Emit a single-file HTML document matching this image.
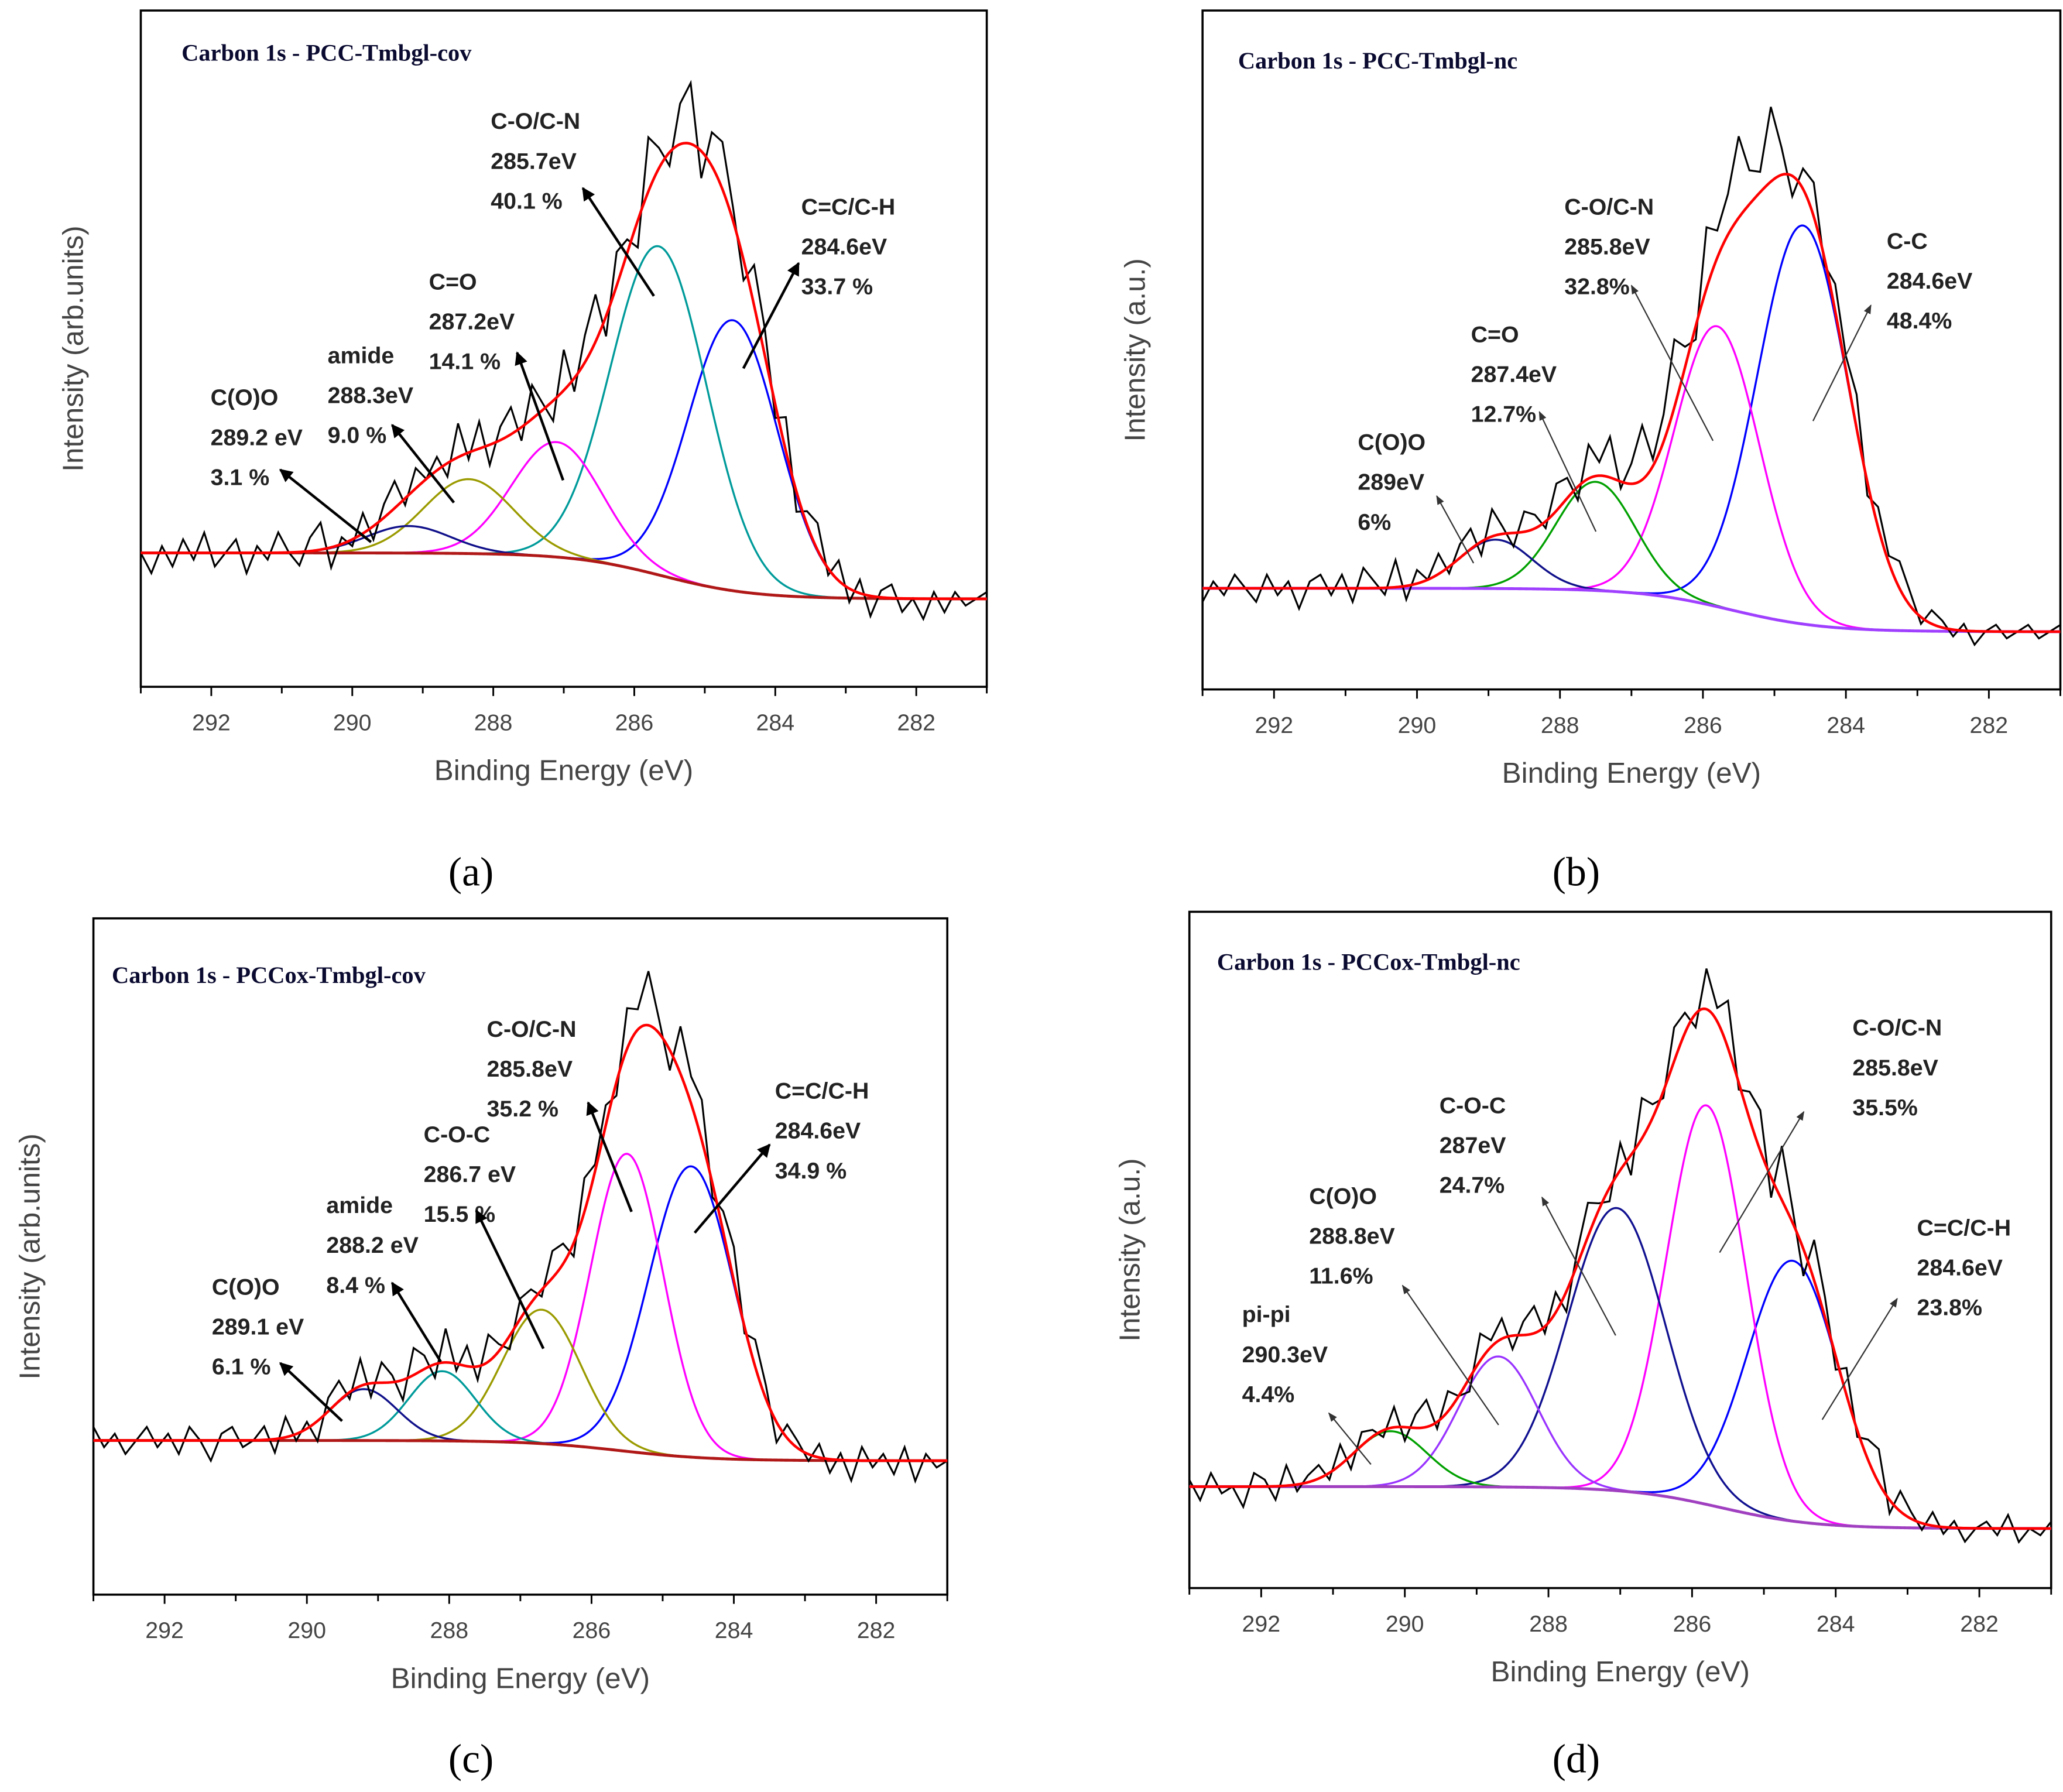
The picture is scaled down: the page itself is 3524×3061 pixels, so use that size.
<!DOCTYPE html>
<html><head><meta charset="utf-8">
<style>
html,body{margin:0;padding:0;background:#fff;}
svg{display:block;}
.lbl{font-family:"Liberation Sans",Arial,sans-serif;font-weight:bold;font-size:17.5px;fill:#222;}
.tick{font-family:"Liberation Sans",Arial,sans-serif;font-size:17.5px;fill:#444;}
.ax{font-family:"Liberation Sans",Arial,sans-serif;font-size:22px;fill:#444;}
.ttl{font-family:"Liberation Serif","Times New Roman",serif;font-weight:bold;font-size:18px;fill:#0a0a30;}
.cap{font-family:"Liberation Serif","Times New Roman",serif;font-size:31px;fill:#000;}
</style></head>
<body>
<svg id="fig" width="3524" height="3061" viewBox="0 0 1568 1362" xmlns="http://www.w3.org/2000/svg">
<defs>
<marker id="ahk" viewBox="0 0 10 10" refX="9" refY="5" markerWidth="5" markerHeight="5" orient="auto"><path d="M0,0L10,5L0,10z" fill="#000"/></marker>
<marker id="ahg" viewBox="0 0 10 10" refX="9" refY="5" markerWidth="7" markerHeight="7" orient="auto"><path d="M0,1L10,5L0,9z" fill="#333"/></marker>
</defs>
</svg>
<script>
// shared tick labels
const tickLabels=[292,290,288,286,284,282];
// Panel A data
const aNames=["C=C/C-H","C-O/C-N","C=O","amide","C(O)O"];
const aCenters=[284.6,285.65,287.1,288.35,289.2];
const aHeights=[40,48.6,17,11,4];
const aFwhm=[1.5,1.6,1.5,1.5,1.4];
const aBg=[19.8,13];
const aNoise=[0,-3,1,-2,2,-1,3,-2,0,2,-3,1,-1,3,0,-2,2,4,-3,1,-1,3,-2,2,4,-1,3,0,2,-2,5,-1,4,-3,2,4,-2,5,1,-3,6,-2,4,7,-3,5,2,-4,8,3,-2,6,9,-4,5,7,2,-3,6,4,-2,5,-3,2,4,-1,3,-2,2,-3,1,2,-2,0,-3,1,-2,1,-1,0,1];
// Panel B data
const bCenters=[284.6,285.8,287.5,288.9];
const bHeights=[58.7,41.3,16,7.2];
const bFwhm=[1.5,1.4,1.3,1.2];
const bBg=[14.9,8.5];
const bNoise=[-2,1,-1,2,0,-2,2,-1,1,-3,1,2,-1,2,-2,3,1,-1,4,-2,2,0,3,-1,2,3,-2,4,1,-2,3,2,-1,4,3,-2,5,2,6,-1,3,8,1,4,10,3,-2,9,4,6,12,5,3,11,4,-3,3,5,-1,4,2,5,-2,3,1,4,2,-1,2,1,-1,1,-2,0,1,-1,0,1,-1,0,1];
// Panel C data
const cCenters=[284.6,285.5,286.7,288.1,289.2];
const cHeights=[43,44,19.8,10.3,7.6];
const cFwhm=[1.4,1.2,1.3,1.1,1.1];
const cBg=[22.8,19.8];
const cNoise=[2,-1,1,-2,0,2,-1,1,-2,2,0,-3,1,2,-1,0,2,-2,3,-1,1,-3,2,3,-1,4,-2,3,1,-3,4,2,-2,5,-1,3,-2,4,1,-2,3,2,-1,4,3,-2,5,1,3,-2,6,3,8,2,-3,7,4,6,-2,3,5,-1,4,2,-3,2,1,-1,2,-2,1,-3,2,-1,1,-2,2,-3,1,-1,0];
// Panel D data
const dCenters=[284.6,285.8,287.05,288.7,290.2];
const dHeights=[38.5,59,41.8,19.3,8.2];
const dFwhm=[1.5,1.3,1.6,1.3,1.2];
const dBg=[15,8.8];
const dNoise=[1,-2,2,-1,0,-3,2,1,-2,3,-1,1,2,-1,3,-2,2,1,-1,3,-2,2,4,-1,3,0,-2,4,1,3,-2,2,4,-1,3,-3,2,5,1,-2,4,-3,6,2,-1,5,3,-2,6,2,7,-1,4,6,-3,8,2,-4,6,3,-2,4,-1,3,5,-2,3,1,-1,2,-1,1,-2,0,1,-1,2,-2,0,-1,1];

const panels=[
 {id:"a",fx0:107,fy0:8,fx1:750,fy1:522,centers:aCenters,heights:aHeights,fwhm:aFwhm,bg:aBg,noise:aNoise,
  colors:["#0000ff","#009a9a","#ff00ff","#9a9a00","#10108a"],base:"#b01818",ylab:"Intensity (arb.units)",ylx:55,
  title:"Carbon 1s - PCC-Tmbgl-cov",tx:138,ty:46,cap:"(a)",cx:358,cy:673,thick:true,
  ann:[["C-O/C-N","285.7eV","40.1 %",373,92,497,225,443,143],["C=C/C-H","284.6eV","33.7 %",609,157,565,280,607,200],
       ["C=O","287.2eV","14.1 %",326,214,428,365,393,268],["amide","288.3eV","9.0 %",249,270,345,382,298,323],
       ["C(O)O","289.2 eV","3.1 %",160,302,282,412,213,357]]},
 {id:"b",fx0:914,fy0:8,fx1:1566,fy1:524,centers:bCenters,heights:bHeights,fwhm:bFwhm,bg:bBg,noise:bNoise,
  colors:["#0000ff","#ff00ff","#00a000","#10108a"],base:"#a040ff",ylab:"Intensity (a.u.)",ylx:862,
  title:"Carbon 1s - PCC-Tmbgl-nc",tx:941,ty:52,cap:"(b)",cx:1198,cy:673,thick:false,
  ann:[["C-C","284.6eV","48.4%",1434,183,1378,320,1422,232],["C-O/C-N","285.8eV","32.8%",1189,157,1302,335,1240,217],
       ["C=O","287.4eV","12.7%",1118,254,1213,404,1170,313],["C(O)O","289eV","6%",1032,336,1120,428,1092,377]]},
 {id:"c",fx0:71,fy0:698,fx1:720,fy1:1212,centers:cCenters,heights:cHeights,fwhm:cFwhm,bg:cBg,noise:cNoise,
  colors:["#0000ff","#ff00ff","#9a9a00","#009a9a","#10108a"],base:"#b01818",ylab:"Intensity (arb.units)",ylx:22,
  title:"Carbon 1s - PCCox-Tmbgl-cov",tx:85,ty:747,cap:"(c)",cx:358,cy:1347,thick:true,
  ann:[["C-O/C-N","285.8eV","35.2 %",370,782,480,921,447,838],["C=C/C-H","284.6eV","34.9 %",589,829,528,937,585,870],
       ["C-O-C","286.7 eV","15.5 %",322,862,413,1025,362,920],["amide","288.2 eV","8.4 %",248,916,335,1035,298,975],
       ["C(O)O","289.1 eV","6.1 %",161,978,260,1080,213,1036]]},
 {id:"d",fx0:904,fy0:693,fx1:1559,fy1:1207,centers:dCenters,heights:dHeights,fwhm:dFwhm,bg:dBg,noise:dNoise,
  colors:["#0000ff","#ff00ff","#101090","#9933ff","#00a000"],base:"#a040c0",ylab:"Intensity (a.u.)",ylx:858,
  title:"Carbon 1s - PCCox-Tmbgl-nc",tx:925,ty:737,cap:"(d)",cx:1198,cy:1347,thick:false,
  ann:[["C-O/C-N","285.8eV","35.5%",1408,781,1307,952,1371,845],["C=C/C-H","284.6eV","23.8%",1457,933,1385,1079,1442,987],
       ["C-O-C","287eV","24.7%",1094,840,1228,1015,1172,910],["C(O)O","288.8eV","11.6%",995,909,1139,1083,1066,977],
       ["pi-pi","290.3eV","4.4%",944,999,1042,1113,1010,1074]]}
];
const NS="http://www.w3.org/2000/svg";
const svg=document.getElementById("fig");
function mk(tag,attrs,parent){const e=document.createElementNS(NS,tag);for(const k in attrs)e.setAttribute(k,attrs[k]);(parent||svg).appendChild(e);return e;}
const X0=293,X1=281;
panels.forEach(p=>{
  const g=mk("g",{});
  
  
  const xs=v=>p.fx0+(X0-v)/(X0-X1)*(p.fx1-p.fx0);
  const ys=v=>p.fy1-v/100*(p.fy1-p.fy0);
  const bgf=x=>p.bg[1]+(p.bg[0]-p.bg[1])/(1+Math.exp(-(x-285.6)/0.65));
  const gau=(x,i)=>p.heights[i]*Math.exp(-4*Math.LN2*Math.pow((x-p.centers[i])/p.fwhm[i],2));
  const env=x=>{let s=bgf(x);for(let i=0;i<p.centers.length;i++)s+=gau(x,i);return s;};
  const N=601;
  const pathOf=f=>{let d="";for(let k=0;k<N;k++){const x=X0-(X0-X1)*k/(N-1);d+=(k?"L":"M")+xs(x).toFixed(2)+","+ys(f(x)).toFixed(2);}return d;};
  const fr=mk("rect",{x:p.fx0,y:p.fy0,width:p.fx1-p.fx0,height:p.fy1-p.fy0,fill:"none",stroke:"#000","stroke-width":1.6},g);
  
  
  for(let v=293;v>=281;v--){
    const major=(v%2===0);
    const t=mk("line",{x1:xs(v),x2:xs(v),y1:p.fy1,y2:p.fy1+(major?7:5),stroke:"#000","stroke-width":1.3},g);
    
    
  }
  tickLabels.forEach(v=>{
    const t=mk("text",{x:xs(v),y:p.fy1+33,"text-anchor":"middle",class:"tick"},g);
    t.textContent=v;
    
    
  });
  const xt=mk("text",{x:(p.fx0+p.fx1)/2,y:p.fy1+71,"text-anchor":"middle",class:"ax"},g);
  xt.textContent="Binding Energy (eV)";
  
  
  const cy=(p.fy0+p.fy1)/2;
  const yt=mk("text",{x:p.ylx,y:cy,"text-anchor":"middle",class:"ax",transform:"rotate(-90 "+p.ylx+" "+cy+")",dy:"8"},g);
  yt.textContent=p.ylab;
  
  
  p.centers.forEach((c,i)=>{
    const cp=mk("path",{d:pathOf(x=>bgf(x)+gau(x,i)),fill:"none",stroke:p.colors[i],"stroke-width":1.5},g);
    
    
  });
  const bl=mk("path",{d:pathOf(bgf),fill:"none",stroke:p.base,"stroke-width":2.2},g);
  
  
  let d="";const n=p.noise.length;
  for(let k=0;k<n;k++){const x=X0-(X0-X1)*k/(n-1);d+=(k?"L":"M")+xs(x).toFixed(2)+","+ys(env(x)+p.noise[k]).toFixed(2);}
  const raw=mk("path",{d:d,fill:"none",stroke:"#000","stroke-width":1.4},g);
  
  
  const ev=mk("path",{d:pathOf(env),fill:"none",stroke:"#ff0000","stroke-width":2},g);
  
  
  const tt=mk("text",{x:p.tx,y:p.ty,class:"ttl"},g);
  tt.textContent=p.title;
  
  
  p.ann.forEach(a=>{
    for(let j=0;j<3;j++){
      const t=mk("text",{x:a[3],y:a[4]+6+j*30.3,class:"lbl"},g);
      t.textContent=a[j];
      
      
    }
    const ar=mk("line",{x1:a[5],y1:a[6],x2:a[7],y2:a[8],stroke:p.thick?"#000":"#333","stroke-width":p.thick?2:1,"marker-end":p.thick?"url(#ahk)":"url(#ahg)"},g);
    
    
  });
  const cp=mk("text",{x:p.cx,y:p.cy,"text-anchor":"middle",class:"cap"},g);
  cp.textContent=p.cap;
  
  
});
</script>
</body></html>
